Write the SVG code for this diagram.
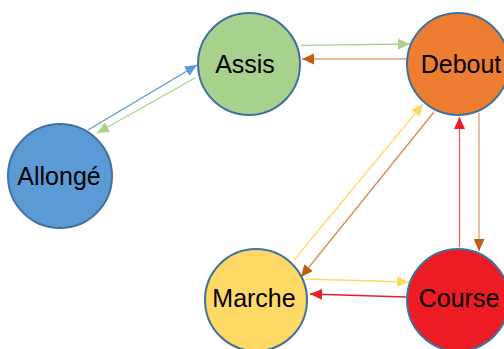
<svg xmlns="http://www.w3.org/2000/svg" width="504" height="349" viewBox="0 0 504 349">
<style>
.node{stroke:#41719C;stroke-width:2}
.lbl{font-family:"Liberation Sans",Arial,sans-serif;font-size:25px;fill:#000;text-anchor:middle}
.c{fill:none;stroke-width:1.3}
</style>
<defs>
<marker id="hGreen" markerUnits="userSpaceOnUse" markerWidth="13" markerHeight="11" refX="12" refY="5.5" orient="auto"><path d="M0,0 L12,5.5 L0,11 Z" fill="#A9D18E"/></marker>
<marker id="hBlue" markerUnits="userSpaceOnUse" markerWidth="13" markerHeight="11" refX="12" refY="5.5" orient="auto"><path d="M0,0 L12,5.5 L0,11 Z" fill="#5B9BD5"/></marker>
<marker id="hBrown" markerUnits="userSpaceOnUse" markerWidth="13" markerHeight="11" refX="12" refY="5.5" orient="auto"><path d="M0,0 L12,5.5 L0,11 Z" fill="#C55A11"/></marker>
<marker id="hYellow" markerUnits="userSpaceOnUse" markerWidth="13" markerHeight="11" refX="12" refY="5.5" orient="auto"><path d="M0,0 L12,5.5 L0,11 Z" fill="#FFD966"/></marker>
<marker id="hRed" markerUnits="userSpaceOnUse" markerWidth="13" markerHeight="11" refX="12" refY="5.5" orient="auto"><path d="M0,0 L12,5.5 L0,11 Z" fill="#ED1C24"/></marker>
</defs>
<rect width="504" height="349" fill="#fff"/>
<g id="connectors">
<line class="c" x1="301" y1="45.3" x2="410" y2="44" stroke="#A9D18E" marker-end="url(#hGreen)"/>
<line class="c" x1="407" y1="59" x2="302" y2="59" stroke="#E9A07A" marker-end="url(#hBrown)"/>
<line class="c" x1="88" y1="130" x2="197" y2="65" stroke="#5B9BD5" marker-end="url(#hBlue)"/>
<line class="c" x1="195" y1="78" x2="97" y2="133" stroke="#A9D18E" marker-end="url(#hGreen)"/>
<line class="c" x1="294" y1="260" x2="423" y2="104" stroke="#FFD966" marker-end="url(#hYellow)"/>
<line class="c" x1="434" y1="112" x2="301" y2="277" stroke="#D98A55" marker-end="url(#hBrown)"/>
<line class="c" x1="459.5" y1="247" x2="459.5" y2="117" stroke="#F0585E" marker-end="url(#hRed)"/>
<line class="c" x1="479" y1="113" x2="479" y2="251" stroke="#DE9A6E" marker-end="url(#hBrown)"/>
<line class="c" x1="305" y1="279" x2="409" y2="282" stroke="#FFD966" marker-end="url(#hYellow)"/>
<line class="c" x1="406" y1="297" x2="310" y2="294" stroke="#ED1C24" marker-end="url(#hRed)"/>
</g>
<g id="assis"><circle class="node" cx="249" cy="64" r="51" fill="#A9D18E"/><text class="lbl" x="245" y="73">Assis</text></g>
<g id="debout"><circle class="node" cx="458" cy="64" r="51" fill="#ED7D31"/><text class="lbl" x="461" y="73">Debout</text></g>
<g id="allonge"><circle class="node" cx="60" cy="176" r="52" fill="#5B9BD5"/><text class="lbl" x="59" y="185">Allongé</text></g>
<g id="marche"><circle class="node" cx="256" cy="300" r="51" fill="#FFD966"/><text class="lbl" x="254" y="307">Marche</text></g>
<g id="course"><circle class="node" cx="458" cy="300" r="51" fill="#ED1C24"/><text class="lbl" x="459" y="307">Course</text></g>
</svg>
